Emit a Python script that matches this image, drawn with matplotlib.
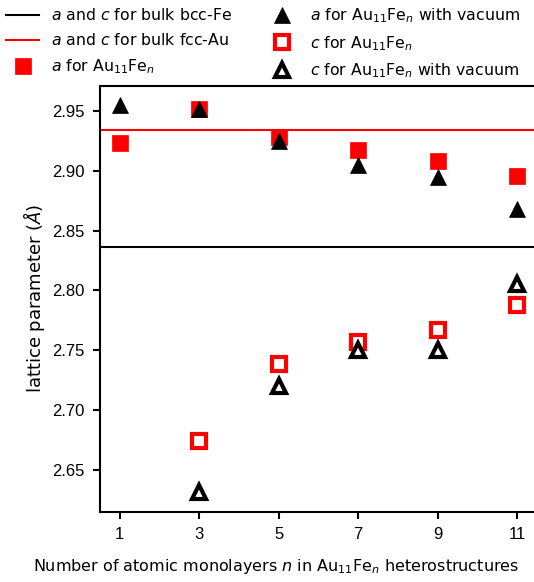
import matplotlib
matplotlib.use("Agg")
import matplotlib.pyplot as plt

n_all = [1, 3, 5, 7, 9, 11]
a_au11fen = [2.923, 2.952, 2.928, 2.917, 2.908, 2.896]
a_vac = [2.955, 2.952, 2.925, 2.905, 2.895, 2.868]
n_c = [3, 5, 7, 9, 11]
c_au11fen = [2.674, 2.738, 2.757, 2.767, 2.788]
c_vac = [2.631, 2.720, 2.750, 2.750, 2.805]
bulk_fe = 2.8365
bulk_au = 2.9345
xticks = [1, 3, 5, 7, 9, 11]
yticks = [2.65, 2.70, 2.75, 2.80, 2.85, 2.90, 2.95]

fig = plt.figure(figsize=(5.34, 5.82), dpi=100)
ax = fig.add_axes([100/534, 70.3/582, 437/534, 426/582])

ax.axhline(bulk_fe, color='black', lw=1.5, label='$a$ and $c$ for bulk bcc-Fe')
ax.axhline(bulk_au, color='red', lw=1.5, label='$a$ and $c$ for bulk fcc-Au')
ax.plot(n_all, a_au11fen, 's', color='red', ms=11, mew=0.5,
        label='$a$ for Au$_{11}$Fe$_n$')
ax.plot(n_all, a_vac, '^', color='black', ms=11, mew=0.5,
        label='$a$ for Au$_{11}$Fe$_n$ with vacuum')
ax.plot(n_c, c_au11fen, 's', mfc='white', mec='red', ms=9.5, mew=3,
        label='$c$ for Au$_{11}$Fe$_n$')
ax.plot(n_c, c_vac, '^', mfc='white', mec='black', ms=10, mew=3,
        label='$c$ for Au$_{11}$Fe$_n$ with vacuum')

ax.set_xticks(xticks)
ax.set_yticks(yticks)
ax.set_yticklabels([f'{v:.2f}' for v in yticks])
for lab in ax.get_xticklabels() + ax.get_yticklabels():
    lab.set_fontfamily('Liberation Sans')
    lab.set_fontsize(12)
ax.tick_params(width=1.5, length=5, pad=6)
for s in ax.spines.values():
    s.set_linewidth(1.5)

ax.set_xlabel('Number of atomic monolayers $n$ in Au$_{11}$Fe$_n$ heterostructures',
              fontsize=11.5)
ax.xaxis.set_label_coords((276 - 100) / 437, -0.107)
ax.set_ylabel('lattice parameter ($Å$)', fontsize=13)

h, l = ax.get_legend_handles_labels()
fig.legend(h, l, ncol=2, frameon=False, loc='upper left', bbox_to_anchor=(0.003, 0.997),
           fontsize=11.3, handlelength=2.1, handletextpad=0.75, columnspacing=2.1,
           labelspacing=0.56, borderaxespad=0.0, borderpad=0.3)

fig.savefig('out.png', dpi=100)
